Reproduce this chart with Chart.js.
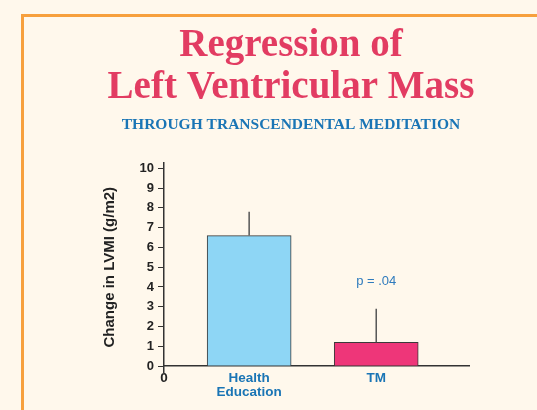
<!DOCTYPE html>
<html lang="en">
<head>
<meta charset="UTF-8">
<title>Regression of Left Ventricular Mass</title>
<script src="https://cdn.jsdelivr.net/npm/chart.js"></script>
<style>
  html, body { margin: 0; padding: 0; background: #fff8ec; }
  body { width: 537px; height: 410px; overflow: hidden; position: relative; }
  #frame { position: absolute; left: 21px; top: 14px; right: -10px; bottom: -10px;
           border-left: 3px solid #f7a03d; border-top: 3px solid #f7a03d; }
  #myChart { position: absolute; left: 0; top: 0; }
</style>
</head>
<body>
<div id="frame"></div>
<canvas id="myChart" width="537" height="410"></canvas>
<script>
// data
const categories = ['Health Education', 'TM'];
const categoryLines = [['Health', 'Education'], ['TM']];
const changeLVMI = [6.6, 1.2];
const errorTop = [7.8, 2.9];
const yTicks = [0, 1, 2, 3, 4, 5, 6, 7, 8, 9, 10];
const pLabel = 'p = .04';

const sans = "'Liberation Sans', Arial, sans-serif";
const serif = "'Liberation Serif', 'Times New Roman', serif";

// upward-only error bars + p value
const errorBars = {
    id: 'errorBars',
    afterDatasetsDraw(chart) {
        const ctx = chart.ctx;
        const y = chart.scales.y;
        const meta = chart.getDatasetMeta(0);
        ctx.save();
        ctx.strokeStyle = '#555';
        ctx.lineWidth = 1.5;
        meta.data.forEach(function(bar, i) {
            ctx.beginPath();
            ctx.moveTo(bar.x, bar.y);
            ctx.lineTo(bar.x, y.getPixelForValue(errorTop[i]));
            ctx.stroke();
        });
        const tm = meta.data[1];
        ctx.fillStyle = '#2f7bbd';
        ctx.font = '13px ' + sans;
        ctx.textAlign = 'center';
        ctx.textBaseline = 'middle';
        ctx.fillText(pLabel, tm.x, y.getPixelForValue(errorTop[1]) - 27);
        ctx.restore();
    }
};

const ctx = document.getElementById('myChart').getContext('2d');
const myChart = new Chart(ctx, {
    type: 'bar',
    data: {
        datasets: [{
            data: changeLVMI.map(function(v, i) { return {x: i, y: v}; }),
            backgroundColor: ['#8ed6f5', '#ee3679'],
            borderColor: '#3a3a3a',
            borderWidth: 1,
            barThickness: 84
        }]
    },
    options: {
        responsive: false,
        animation: false,
        layout: { padding: { left: 45, right: 0, top: 0, bottom: 38 } },
        plugins: {
            legend: { display: false },
            tooltip: { enabled: false },
            title: {
                display: true,
                text: ['Regression of', 'Left Ventricular Mass'],
                color: '#e23c62',
                font: { family: serif, size: 39, weight: 'bold', lineHeight: 1.1 },
                padding: { top: 24, bottom: 0 }
            },
            subtitle: {
                display: true,
                text: 'THROUGH TRANSCENDENTAL MEDITATION',
                color: '#1a75b5',
                font: { family: serif, size: 15.5, weight: 'bold', lineHeight: 1.2 },
                padding: { top: 6, bottom: 28 }
            }
        },
        scales: {
            x: {
                type: 'linear',
                position: { y: 0 },
                offset: false,
                min: -0.67,
                max: 1.73,
                grid: { display: false, drawTicks: false },
                border: { display: true, color: '#333', width: 1.5 },
                afterBuildTicks: function(scale) {
                    scale.ticks = [{value: scale.min}].concat(categories.map(function(c, i) { return {value: i}; }));
                },
                ticks: {
                    autoSkip: false,
                    maxRotation: 0,
                    padding: 5,
                    color: function(c) { return c.index === 0 ? '#222' : '#1a75b5'; },
                    font: { family: sans, size: 13.5, weight: 'bold', lineHeight: 1.05 },
                    callback: function(value, index) {
                        return index === 0 ? '0' : categoryLines[index - 1];
                    }
                }
            },
            y: {
                min: -0.3,
                max: 10.3,
                afterBuildTicks: function(scale) {
                    scale.ticks = yTicks.map(function(v) { return {value: v}; });
                },
                afterFit: function(scale) { scale.width = 119; },
                grid: { drawOnChartArea: false, drawTicks: true, tickLength: 6, color: '#333' },
                border: { color: '#333', width: 1.5 },
                ticks: {
                    padding: 4,
                    color: '#222',
                    font: { family: sans, size: 13, weight: 'bold' }
                },
                title: {
                    display: true,
                    text: 'Change in LVMI (g/m2)',
                    color: '#222',
                    font: { family: sans, size: 15, weight: 'bold' },
                    padding: { top: 56, bottom: 0 }
                }
            },
            // empty right box, keeps the plot narrower than the title
            y2: {
                position: 'right',
                grid: { display: false },
                border: { display: false },
                ticks: { display: false },
                afterFit: function(scale) { scale.width = 68; }
            }
        }
    },
    plugins: [errorBars]
});
</script>
</body>
</html>
